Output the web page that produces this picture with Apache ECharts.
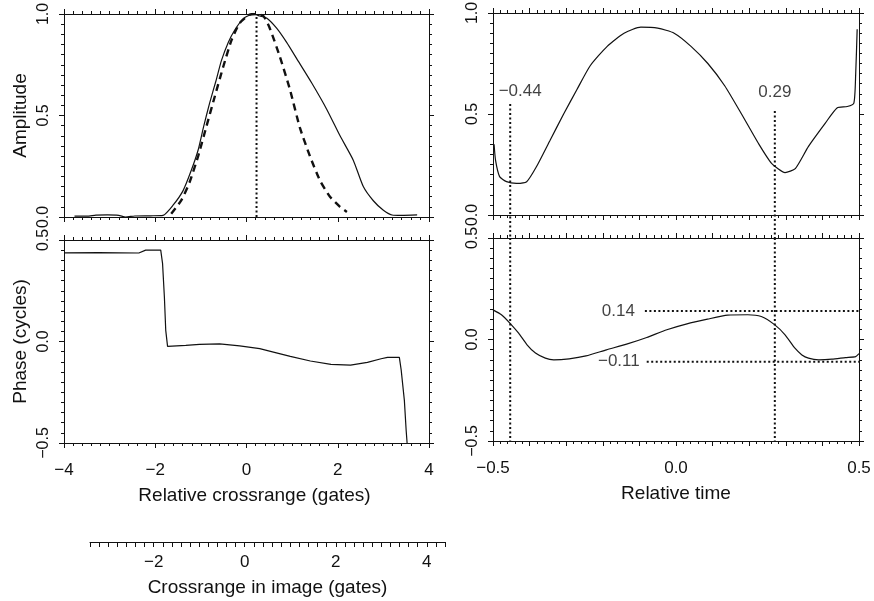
<!DOCTYPE html>
<html>
<head>
<meta charset="utf-8">
<script src="https://cdn.jsdelivr.net/npm/echarts@6/dist/echarts.min.js"></script>
<style>
    html, body { margin: 0; background: #fff; }
    #chart { width: 874px; height: 601px; }
</style>
</head>
<body>
<div id="chart"></div>
<script>
// tick labels
const crossTicks = [-4, -2, 0, 2, 4];
const imageTicks = [-2, 0, 2, 4];
const timeTicks = [-0.5, 0, 0.5];
const ampTicks = [0, 0.5, 1];
const phaseTicks = [-0.5, 0, 0.5];

// top left: amplitude vs relative crossrange (solid = measured, dashed = reference)
const ampCross = [[-3.77, 0.004], [-3.5, 0.004], [-3.3, 0.009], [-3.05, 0.01], [-2.8, 0.008], [-2.65, 0.0], [-2.45, 0.005],
    [-2.1, 0.006], [-1.83, 0.008], [-1.61, 0.058], [-1.39, 0.13], [-1.21, 0.23], [-1.06, 0.33], [-0.94, 0.445],
    [-0.81, 0.56], [-0.67, 0.67], [-0.55, 0.77], [-0.40, 0.86], [-0.26, 0.92], [-0.07, 0.977], [0.15, 1.0], [0.29, 0.99],
    [0.44, 0.98], [0.66, 0.93], [0.88, 0.86], [1.10, 0.78], [1.43, 0.66], [1.76, 0.53], [2.05, 0.40], [2.34, 0.28],
    [2.56, 0.15], [2.78, 0.08], [3.0, 0.033], [3.19, 0.01], [3.4, 0.008], [3.74, 0.01]];
const ampCrossDashed = [[-1.65, 0.016], [-1.43, 0.082], [-1.25, 0.17], [-1.06, 0.30], [-0.88, 0.445], [-0.70, 0.59],
    [-0.51, 0.74], [-0.33, 0.87], [-0.15, 0.955], [0.07, 0.997], [0.22, 1.0], [0.37, 0.99], [0.51, 0.93], [0.73, 0.79],
    [0.95, 0.63], [1.17, 0.44], [1.39, 0.30], [1.61, 0.18], [1.83, 0.10], [2.05, 0.05], [2.2, 0.025]];
const peakCross = 0.22;

// bottom left: phase vs relative crossrange
const phaseCross = [[-4, 0.437], [-3.24, 0.438], [-2.36, 0.436], [-2.21, 0.45], [-1.88, 0.45], [-1.84, 0.385], [-1.8, 0.22],
    [-1.77, 0.055], [-1.73, -0.024], [-1.33, -0.019], [-1.03, -0.014], [-0.59, -0.012], [-0.15, -0.022], [0.29, -0.035],
    [0.59, -0.052], [0.96, -0.073], [1.4, -0.096], [1.85, -0.113], [2.28, -0.116], [2.65, -0.103], [2.95, -0.085],
    [3.09, -0.078], [3.35, -0.078], [3.39, -0.14], [3.46, -0.29], [3.5, -0.44], [3.52, -0.5]];

// top right: amplitude vs relative time
const ampTime = [[-0.497, 0.35], [-0.493, 0.27], [-0.482, 0.19], [-0.463, 0.165], [-0.436, 0.157], [-0.408, 0.165],
    [-0.381, 0.24], [-0.344, 0.37], [-0.307, 0.50], [-0.271, 0.62], [-0.234, 0.74], [-0.188, 0.835], [-0.142, 0.90],
    [-0.096, 0.93], [-0.05, 0.925], [-0.005, 0.90], [0.041, 0.835], [0.087, 0.75], [0.133, 0.64], [0.179, 0.50],
    [0.225, 0.355], [0.261, 0.256], [0.298, 0.21], [0.326, 0.23], [0.362, 0.34], [0.408, 0.455], [0.44, 0.53],
    [0.468, 0.537], [0.486, 0.554], [0.491, 0.70], [0.495, 0.92]];

// bottom right: phase vs relative time
const phaseTime = [[-0.5, 0.146], [-0.477, 0.122], [-0.454, 0.081], [-0.43, 0.031], [-0.407, -0.026], [-0.384, -0.067],
    [-0.357, -0.092], [-0.334, -0.10], [-0.292, -0.095], [-0.246, -0.081], [-0.19, -0.051], [-0.135, -0.023],
    [-0.08, 0.01], [-0.025, 0.048], [0.03, 0.077], [0.086, 0.10], [0.141, 0.12], [0.196, 0.122], [0.233, 0.113],
    [0.27, 0.072], [0.298, 0.023], [0.325, -0.043], [0.344, -0.076], [0.362, -0.092], [0.39, -0.10], [0.426, -0.097],
    [0.463, -0.089], [0.491, -0.084], [0.5, -0.07]];

// amplitude minima and phase levels marked with dotted lines
const minTimes = [-0.453, 0.27];
const minTimeTops = [0.55, 0.515];
const minTimeLabels = ['\u22120.44', '0.29'];
const phaseLevels = [0.141, -0.109];
const phaseLevelStarts = [-0.085, -0.08];
const phaseLevelLabels = ['0.14', '\u22120.11'];

const FONT = '"Liberation Sans", Arial, sans-serif';
const INK = '#111';

const fmt = (v, digits) => (v < -1e-9 ? '\u2212' : '') + Math.abs(v).toFixed(digits);
const onTick = (ticks, v) => ticks.some(t => Math.abs(t - v) < 1e-6);

const makeAxis = ({grid, position, min, max, interval, minor, ticks, digits, name, nameGap, margin, rotate, size, namePad}) => ({
    type: 'value',
    gridIndex: grid,
    position: position,
    min: min,
    max: max,
    interval: interval,
    axisLine: {show: true, onZero: false, lineStyle: {color: INK, width: 1}},
    axisTick: {show: true, length: 5, lineStyle: {color: INK, width: 1}},
    minorTick: {show: !!minor, splitNumber: minor || 5, length: 3, lineStyle: {color: INK, width: 1}},
    splitLine: {show: false},
    minorSplitLine: {show: false},
    axisLabel: ticks ? {
        show: true,
        interval: 0,
        margin: margin,
        rotate: rotate || 0,
        color: INK,
        fontFamily: FONT,
        fontSize: size || 17,
        formatter: v => onTick(ticks, v) ? fmt(v, digits) : ''
    } : {show: false},
    name: name || '',
    nameLocation: 'middle',
    nameGap: nameGap,
    nameTextStyle: {color: INK, fontFamily: FONT, fontSize: 19, padding: namePad || 0}
});

const grids = [
    {left: 64, top: 14, width: 365, height: 203},
    {left: 64, top: 240, width: 365, height: 203},
    {left: 493, top: 13, width: 366, height: 202},
    {left: 493, top: 238, width: 366, height: 203},
    {left: 90, top: 541, width: 355, height: 1}
].map(g => ({...g, outerBoundsMode: 'none', containLabel: false}));

const crossX = {min: -4, max: 4, interval: 2, minor: 10};
const timeX = {min: -0.5, max: 0.5, interval: 0.1, minor: 5};
const ampY = {min: 0, max: 1, interval: 0.5, minor: 10};
const phaseY = {min: -0.5, max: 0.5, interval: 0.5, minor: 10};

const xAxis = [
    makeAxis({grid: 0, position: 'bottom', ...crossX}),
    makeAxis({grid: 0, position: 'top', ...crossX}),
    makeAxis({grid: 1, position: 'bottom', ...crossX, ticks: crossTicks, digits: 0, margin: 19,
        name: 'Relative crossrange (gates)', nameGap: 43, namePad: [0, 0, 0, 16]}),
    makeAxis({grid: 1, position: 'top', ...crossX}),
    makeAxis({grid: 2, position: 'bottom', ...timeX}),
    makeAxis({grid: 2, position: 'top', ...timeX}),
    makeAxis({grid: 3, position: 'bottom', ...timeX, ticks: timeTicks, digits: 1, margin: 19,
        name: 'Relative time', nameGap: 43}),
    makeAxis({grid: 3, position: 'top', ...timeX}),
    makeAxis({grid: 4, position: 'bottom', min: -3.4, max: 4.4, interval: 0.2, ticks: imageTicks, digits: 0,
        margin: 12, name: 'Crossrange in image (gates)', nameGap: 36})
];

const yAxis = [
    makeAxis({grid: 0, position: 'left', ...ampY, ticks: ampTicks, digits: 1, margin: 12, rotate: 90, size: 16,
        name: 'Amplitude', nameGap: 34}),
    makeAxis({grid: 0, position: 'right', ...ampY}),
    makeAxis({grid: 1, position: 'left', ...phaseY, ticks: phaseTicks, digits: 1, margin: 12, rotate: 90, size: 16,
        name: 'Phase (cycles)', nameGap: 34}),
    makeAxis({grid: 1, position: 'right', ...phaseY}),
    makeAxis({grid: 2, position: 'left', ...ampY, ticks: ampTicks, digits: 1, margin: 12, rotate: 90, size: 16}),
    makeAxis({grid: 2, position: 'right', ...ampY}),
    makeAxis({grid: 3, position: 'left', ...phaseY, ticks: phaseTicks, digits: 1, margin: 12, rotate: 90, size: 16}),
    makeAxis({grid: 3, position: 'right', ...phaseY}),
    {type: 'value', gridIndex: 4, show: false, min: 0, max: 1}
];

const solid = (name, x, y, data, smooth) => ({
    name: name, type: 'line', xAxisIndex: x, yAxisIndex: y, data: data,
    smooth: smooth || false,
    symbol: 'none', lineStyle: {color: INK, width: 1.2}, z: 3
});
const dotted = (name, x, y, data) => ({
    name: name, type: 'line', xAxisIndex: x, yAxisIndex: y, data: data, clip: false,
    symbol: 'none', lineStyle: {color: INK, width: 2, type: [2, 2.5]}, z: 2
});
const labels = (x, y, data) => ({
    type: 'scatter', xAxisIndex: x, yAxisIndex: y, data: data, symbol: 'circle', symbolSize: 0,
    itemStyle: {color: INK}, silent: true,
    label: {show: true, color: INK, fontFamily: FONT, fontSize: 17}
});

const series = [
    solid('Amplitude', 0, 0, ampCross, 0.2),
    {
        name: 'Amplitude (dashed)', type: 'line', xAxisIndex: 0, yAxisIndex: 0, data: ampCrossDashed,
        smooth: 0.2,
        symbol: 'none', lineStyle: {color: INK, width: 2.4, type: [7, 5]}
    },
    dotted('Peak', 0, 0, [[peakCross, 0], [peakCross, 1]]),
    solid('Phase', 2, 2, phaseCross),
    solid('Amplitude vs time', 4, 4, ampTime, 0.2),
    solid('Phase vs time', 6, 6, phaseTime, 0.2)
];

minTimes.forEach((t, i) => {
    series.push(dotted('Minimum ' + minTimeLabels[i], 4, 4, [[t, minTimeTops[i]], [t, -0.114]]));
    series.push(dotted('Minimum phase ' + minTimeLabels[i], 6, 6, [[t, 0.5], [t, -0.5]]));
});
phaseLevels.forEach((p, i) => {
    series.push(dotted('Level ' + phaseLevelLabels[i], 6, 6, [[phaseLevelStarts[i], p], [0.5, p]]));
});

series.push(labels(4, 4, minTimes.map((t, i) => ({
    value: [t, minTimeTops[i]],
    label: {
        formatter: minTimeLabels[i],
        position: 'top',
        distance: i === 0 ? 4 : 10,
        offset: i === 0 ? [10, 0] : [0, 0]
    }
}))));
series.push(labels(6, 6, phaseLevels.map((p, i) => ({
    value: [phaseLevelStarts[i], p],
    label: {formatter: phaseLevelLabels[i], position: 'left', distance: i === 0 ? 10 : 7}
}))));

const myChart = echarts.init(document.getElementById('chart'), null, {renderer: 'canvas'});
myChart.setOption({
    animation: false,
    backgroundColor: '#fff',
    grid: grids,
    xAxis: xAxis,
    yAxis: yAxis,
    series: series
});
</script>
</body>
</html>
